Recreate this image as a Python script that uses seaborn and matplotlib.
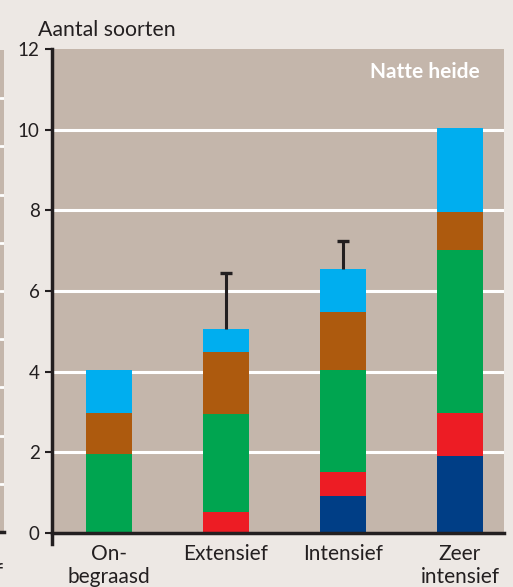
import numpy as np
import pandas as pd
import matplotlib
matplotlib.use('Agg')
import matplotlib.pyplot as plt
import seaborn as sns

# ---- data ----
categories = ['On-\nbegraasd', 'Extensief', 'Intensief', 'Zeer\nintensief']
navy = [0.0, 0.0, 0.92, 1.92]
red = [0.0, 0.52, 0.60, 1.05]
green = [1.95, 2.43, 2.53, 4.05]
brown = [1.02, 1.55, 1.43, 0.95]
blue = [1.08, 0.57, 1.07, 2.07]
err_up = [np.nan, 1.38, 0.68, np.nan]

layers = ['navy', 'red', 'green', 'brown', 'blue']
colors = {'navy': '#003e86', 'red': '#ed1c24', 'green': '#00a550',
          'brown': '#ad5a0e', 'blue': '#00aeef'}

df = pd.DataFrame({'cat': categories, 'navy': navy, 'red': red,
                   'green': green, 'brown': brown, 'blue': blue})
cum = df[layers].cumsum(axis=1)

sns.set_style('white')
plt.rcParams['font.family'] = ['Lato', 'DejaVu Sans']

BG = '#ede8e4'
PANEL = '#c4b6ab'
INK = '#231f20'

fig = plt.figure(figsize=(5.13, 5.87), dpi=100, facecolor=BG)
ax = fig.add_axes([52 / 513, 54 / 587, 452 / 513, 484 / 587])
ax.set_facecolor(PANEL)

# stacked bars: draw cumulative totals from top layer down
for layer in layers[::-1]:
    sns.barplot(x=df['cat'], y=cum[layer], color=colors[layer],
                width=0.39, saturation=1, ax=ax, zorder=2,
                edgecolor='none', linewidth=0)

# error bars (upper only)
tot = cum['blue'].values
top = tot + np.array(err_up)
x = np.arange(len(categories))
ax.vlines(x, tot, top, color=INK, lw=2.2, zorder=3)
ax.hlines(top, x - 0.05, x + 0.05, color=INK, lw=2.4, zorder=3)

ax.set_xlim(-0.487, 3.376)
ax.set_ylim(0, 12)
ax.set_yticks(range(0, 13, 2))
for g in range(2, 12, 2):
    ax.axhline(g, color='white', lw=2.2, zorder=1)

ax.set_xlabel('')
ax.set_ylabel('')
for s in ['top', 'right']:
    ax.spines[s].set_visible(False)
for s in ['left', 'bottom']:
    ax.spines[s].set_color(INK)
    ax.spines[s].set_linewidth(2.5)
ax.spines['left'].set_bounds(-0.27, 12)
ax.tick_params(axis='y', length=5, width=1.5, color=INK, labelsize=13.5,
               labelcolor=INK, pad=4, direction='out', left=True)
ax.tick_params(axis='x', length=0, labelsize=15, labelcolor=INK, pad=8)
for lab in ax.get_xticklabels():
    lab.set_linespacing(1.15)

ax.text(0.947, 0.952, 'Natte heide', transform=ax.transAxes, ha='right',
        va='center', color='white', fontsize=15, fontweight='bold')
fig.text(38 / 513, 1 - 36 / 587, 'Aantal soorten', fontsize=15.3, color=INK,
         va='baseline')

# neighbouring panel cut off at the left edge
ax2 = fig.add_axes([0, 55 / 587, 4 / 513, 482 / 587])
ax2.set_facecolor(PANEL)
ax2.set_xlim(0, 1)
ax2.set_ylim(0, 10)
for g in range(1, 10):
    ax2.axhline(g, color='white', lw=2)
ax2.set_xticks([])
ax2.set_yticks([])
for s in ['top', 'right', 'left']:
    ax2.spines[s].set_visible(False)
ax2.spines['bottom'].set_color(INK)
ax2.spines['bottom'].set_linewidth(2.5)
fig.text(4 / 513, 1 - 578 / 587, 'intensief', fontsize=15, color=INK,
         ha='right', va='baseline')

fig.savefig('out.png', dpi=100, facecolor=BG)
